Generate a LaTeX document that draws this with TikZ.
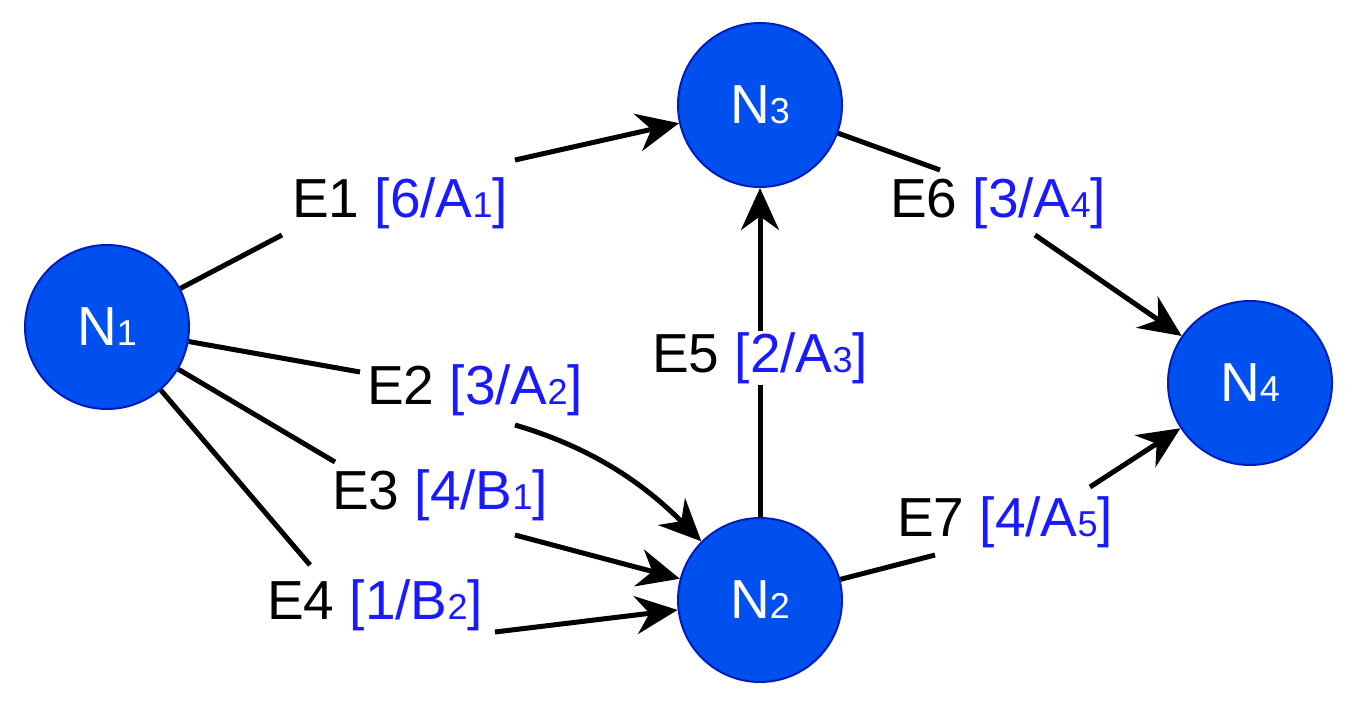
\documentclass[tikz,border=0pt]{standalone}
\usepackage{fontspec}
\setmainfont{Liberation Sans}
\usetikzlibrary{arrows.meta}
\definecolor{nfill}{HTML}{0050EF}
\definecolor{nbord}{HTML}{001DBC}
\definecolor{lbl}{HTML}{1A1AFF}
\newcommand{\sbs}[1]{{\fontsize{36}{36}\selectfont #1}}
\begin{document}
\begin{tikzpicture}[x=1pt,y=-1pt,
  nd/.style={circle,draw=nbord,line width=2pt,fill=nfill,minimum size=164pt,inner sep=0pt,text=white,font=\fontsize{55}{55}\selectfont},
  lab/.style={fill=white,inner sep=1pt,font=\fontsize{55}{55}\selectfont},
  ed/.style={line width=5pt,draw=black},
  ar/.style={ed,-{Stealth[length=42pt,width=38pt]}}]
\useasboundingbox (0,0) rectangle (1364,704);
\node[nd] (N1) at (107,327) {N\sbs{1}};
\node[nd] (N3) at (760,105) {N\sbs{3}};
\node[nd] (N2) at (760,600) {N\sbs{2}};
\node[nd] (N4) at (1250,383) {N\sbs{4}};
\node[lab] (L1) at (400,203) {E1 \textcolor{lbl}{[6/A\sbs{1}]}};
\node[lab] (L2) at (475,390) {E2 \textcolor{lbl}{[3/A\sbs{2}]}};
\node[lab] (L3) at (440,495) {E3 \textcolor{lbl}{[4/B\sbs{1}]}};
\node[lab] (L4) at (375,605) {E4 \textcolor{lbl}{[1/B\sbs{2}]}};
\node[lab] (L5) at (760,358) {E5 \textcolor{lbl}{[2/A\sbs{3}]}};
\node[lab] (L6) at (998,203) {E6 \textcolor{lbl}{[3/A\sbs{4}]}};
\node[lab] (L7) at (1005,522) {E7 \textcolor{lbl}{[4/A\sbs{5}]}};
\draw[ed] (N1) -- (282,235);
\draw[ar] (515,160) -- (N3);
\draw[ed] (N1) -- (360,372);
\draw[ar] (515,425) .. controls (600,450) and (650,490) .. (N2);
\draw[ed] (N1) -- (335,462);
\draw[ar] (515,535) -- (N2);
\draw[ed] (N1) -- (310,565);
\draw[ar] (495,632) -- (N2);
\draw[ed] (N2) -- (L5);
\draw[ar] (L5) -- (N3);
\draw[ed] (N3) -- (940,170);
\draw[ar] (1035,235) -- (N4);
\draw[ed] (N2) -- (935,555);
\draw[ar] (1090,487) -- (N4);
\end{tikzpicture}
\end{document}
